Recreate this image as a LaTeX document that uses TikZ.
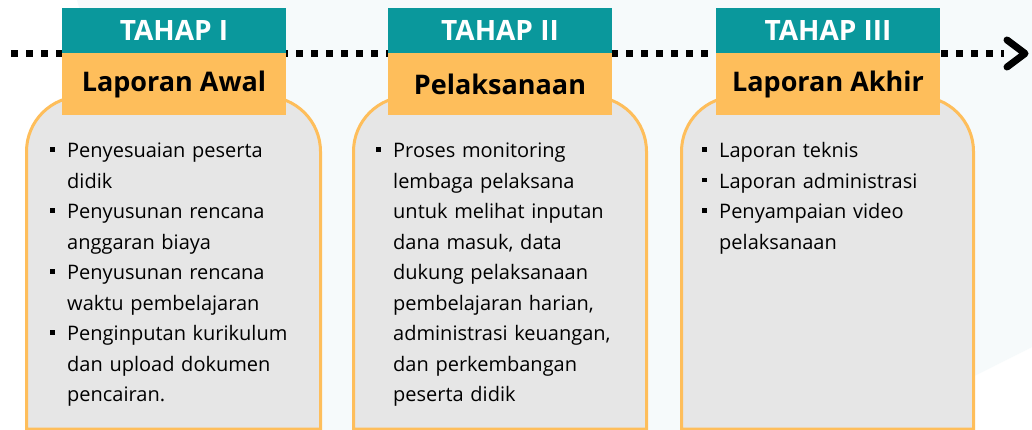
\documentclass[tikz,border=0pt]{standalone}
\usepackage{fontspec}
\setmainfont{Open Sans}
\usetikzlibrary{positioning}
\definecolor{tahapteal}{HTML}{0A989C}
\definecolor{tahaporange}{HTML}{FEBE5B}
\definecolor{panelgray}{HTML}{E6E6E6}
\definecolor{bgpale}{HTML}{F6FAFB}
\tikzset{
    stagehead/.style={
        fill=tahapteal,
        text=white,
        font=\bfseries\fontsize{28}{32}\selectfont,
        minimum width=224pt,
        minimum height=45pt,
        inner sep=0pt
    },
    stagetitle/.style={
        fill=tahaporange,
        text=black,
        font=\bfseries\fontsize{27}{31}\selectfont,
        minimum width=224pt,
        minimum height=62pt,
        inner sep=0pt
    },
    panel/.style={draw=tahaporange, fill=panelgray, line width=3pt},
    itemlist/.style={
        anchor=north west,
        inner sep=0pt,
        align=left,
        text width=265pt,
        font=\fontsize{20}{30.5}\selectfont
    },
    dotline/.style={line width=7pt, dash pattern=on 6.5pt off 8.5pt},
    chevron/.style={line width=7pt, line cap=round, line join=round}
}
\newcommand{\itm}{\par\hangindent=17pt\hangafter=1\noindent
    \makebox[17pt][l]{\rule{0pt}{20pt}\rule[6pt]{4.5pt}{4.5pt}}}

\begin{document}
\begin{tikzpicture}[x=1pt,y=-1pt]
    \useasboundingbox (0,0) rectangle (1032,430);
    \fill[white] (0,0) rectangle (1032,430);
    \fill[bgpale] (77,0) -- (1032,0) -- (1032,347) -- (867,430) -- (200,430) -- cycle;

    % timeline
    \coordinate (lineL) at (11,53.5);
    \coordinate (lineR) at (1004,53.5);
    \coordinate (tip) at (1025,53.5);
    \coordinate (armU) at (1007,40);
    \coordinate (armD) at (1007,67);
    \draw[dotline] (lineL) -- (lineR);
    \draw[chevron] (armU) -- (tip) -- (armD);

    % panels
    \draw[panel] (26.5,429) {[rounded corners=55pt] -- (26.5,96.5) -- (320.5,96.5)} -- (320.5,429) -- cycle;
    \draw[panel] (353.5,429) {[rounded corners=55pt] -- (353.5,96.5) -- (646.5,96.5)} -- (646.5,429) -- cycle;
    \draw[panel] (681.5,429) {[rounded corners=55pt] -- (681.5,96.5) -- (973.5,96.5)} -- (973.5,429) -- cycle;

    % headers
    \node[stagehead] (head1) at (174,30.5) {TAHAP I};
    \node[stagetitle, below=0pt of head1] (title1) {Laporan Awal};
    \node[stagehead] (head2) at (500,30.5) {TAHAP II};
    \node[stagetitle, below=0pt of head2] (title2) {Pelaksanaan};
    \node[stagehead] (head3) at (828,30.5) {TAHAP III};
    \node[stagetitle, below=0pt of head3] (title3) {Laporan Akhir};

    % contents
    \node[itemlist] (list1) at (50,127) {%
        \itm Penyesuaian peserta\newline didik
        \itm Penyusunan rencana\newline anggaran biaya
        \itm Penyusunan rencana\newline waktu pembelajaran
        \itm Penginputan kurikulum\newline dan upload dokumen\newline pencairan.\par};
    \node[itemlist] (list2) at (376,127) {%
        \itm Proses monitoring\newline lembaga pelaksana\newline untuk melihat inputan\newline
        dana masuk, data\newline dukung pelaksanaan\newline pembelajaran harian,\newline
        administrasi keuangan,\newline dan perkembangan\newline peserta didik\par};
    \node[itemlist] (list3) at (702,127) {%
        \itm Laporan teknis
        \itm Laporan administrasi
        \itm Penyampaian video\newline pelaksanaan\par};
\end{tikzpicture}
\end{document}
